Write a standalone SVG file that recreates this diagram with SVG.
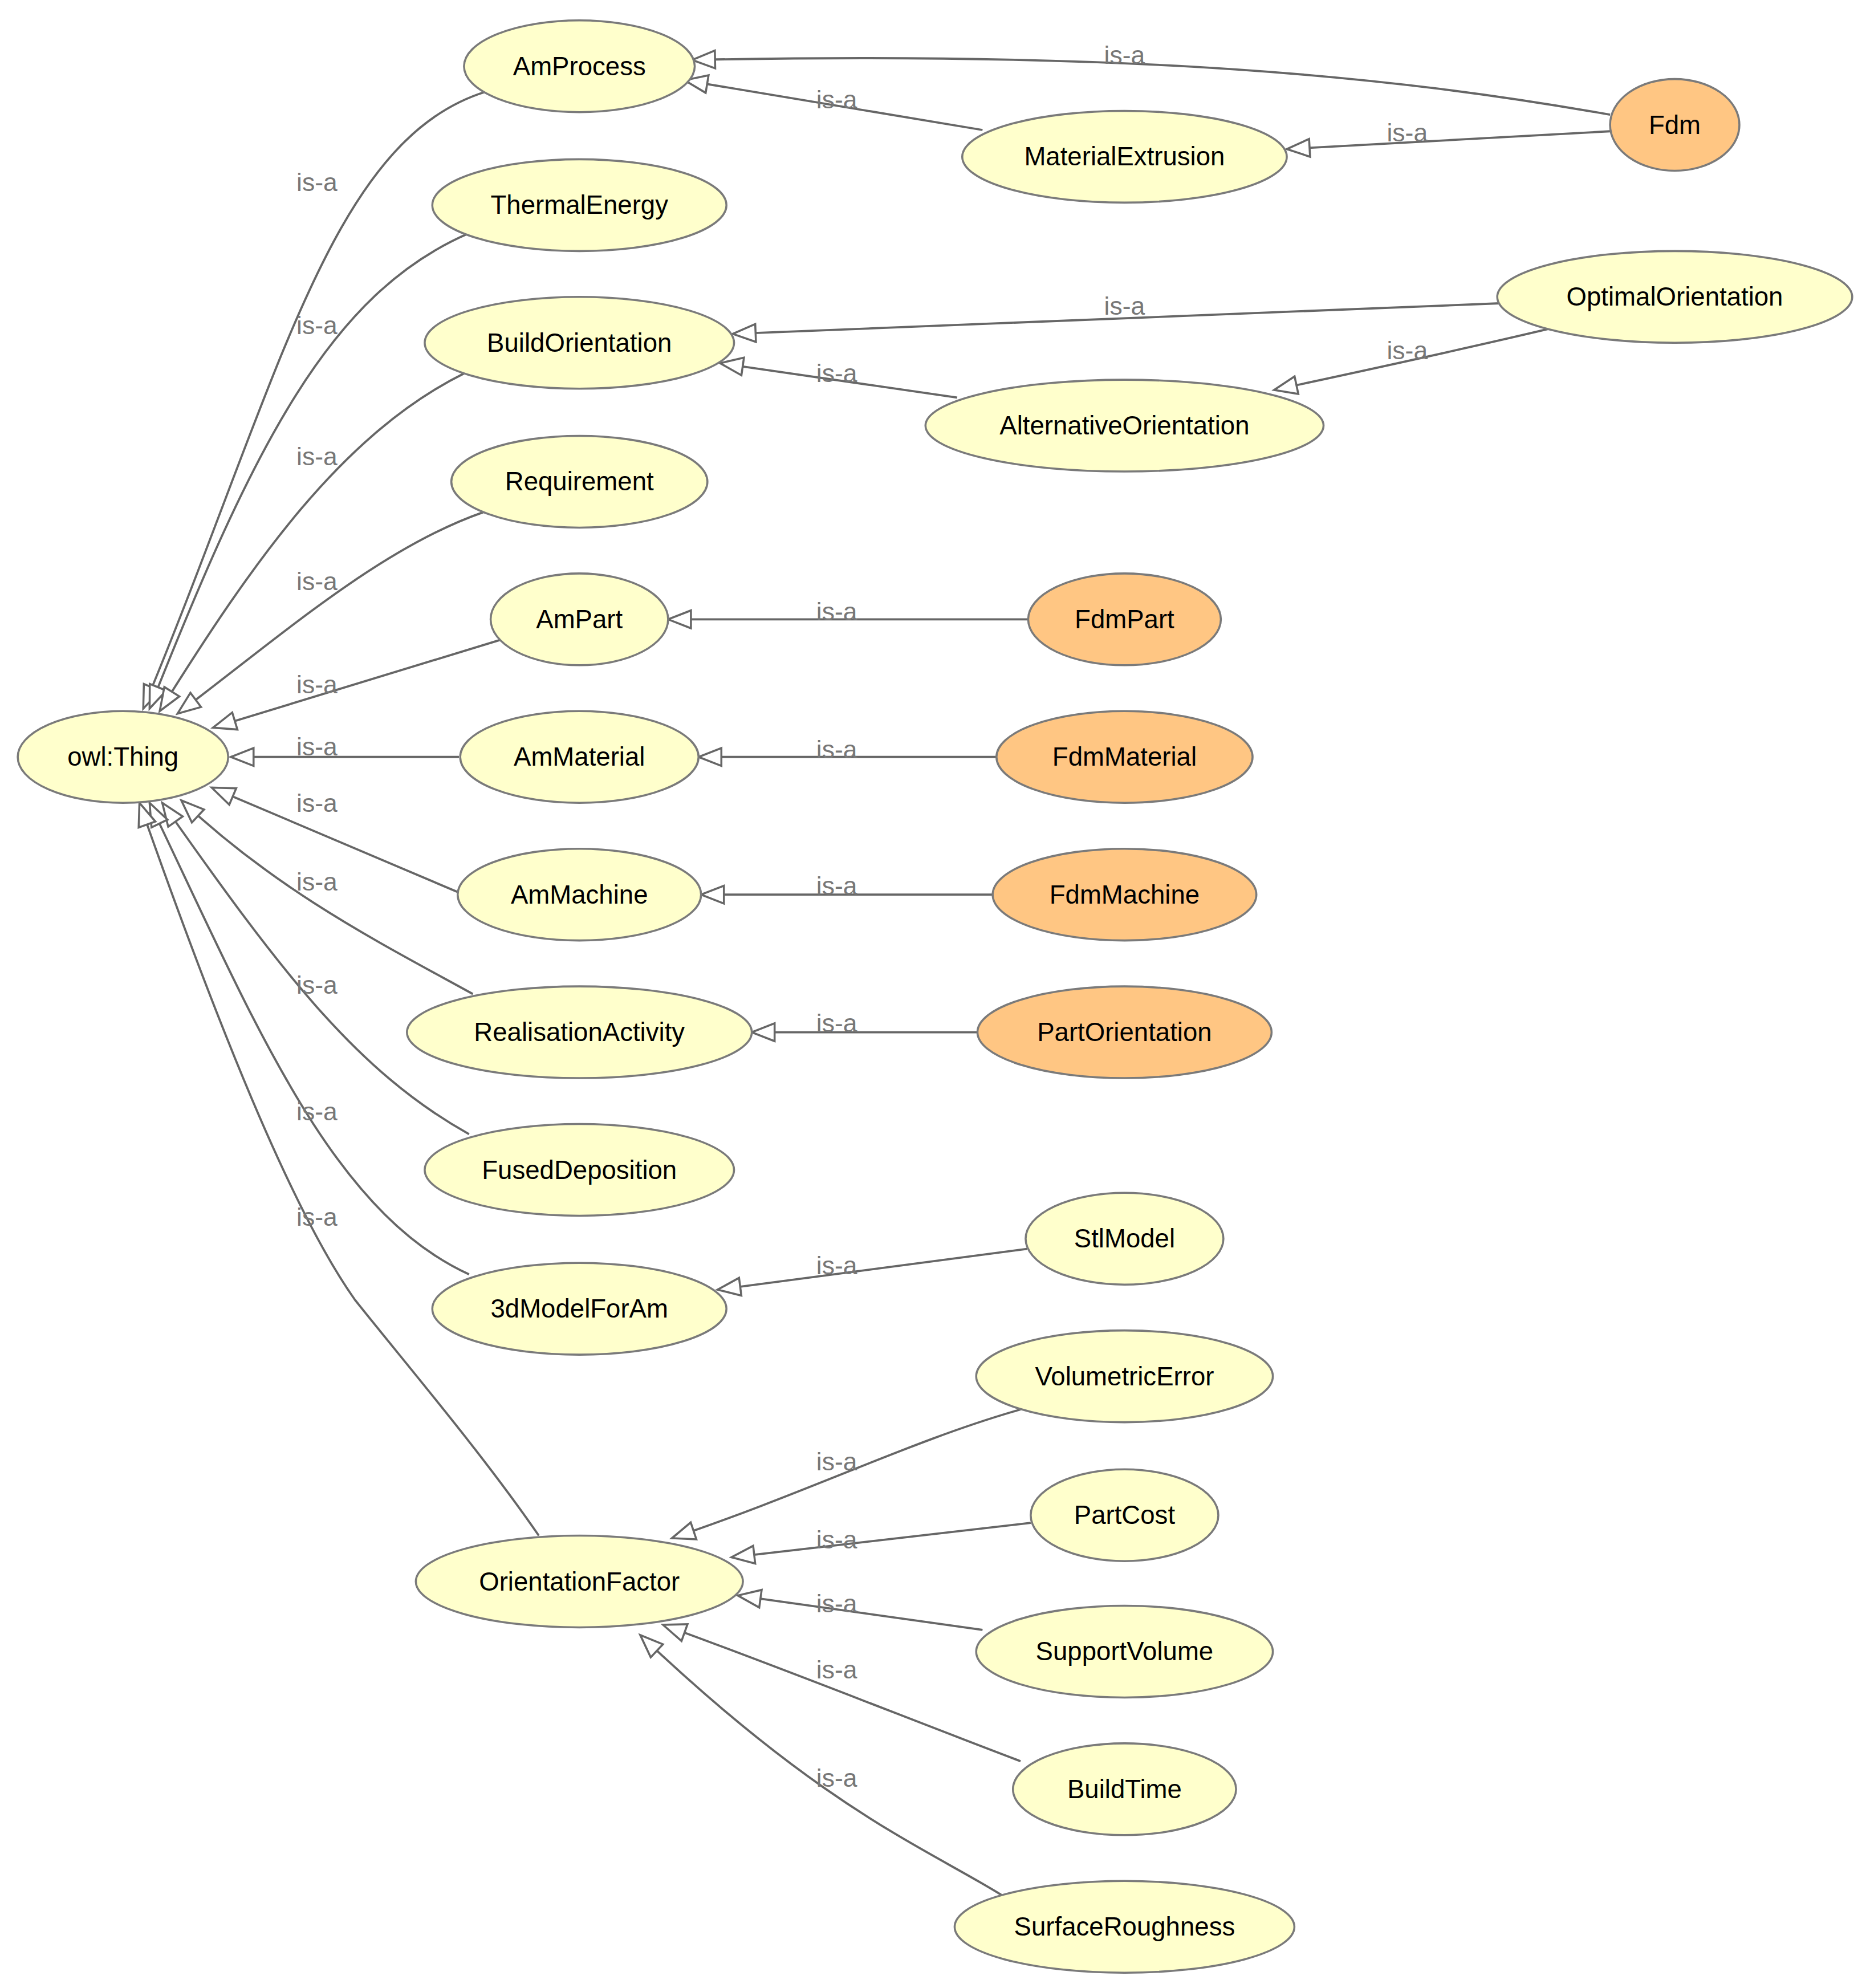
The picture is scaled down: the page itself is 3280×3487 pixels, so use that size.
<svg xmlns="http://www.w3.org/2000/svg" width="3280" height="3487" viewBox="0 0 3280 3487">
<style>
.n{fill:#ffffcc;stroke:#7a7a7a;stroke-width:1.6}
.o{fill:#ffc683;stroke:#7a7a7a;stroke-width:1.6}
.t{font-family:"Liberation Sans",Arial,sans-serif;font-size:20.5px;fill:#000;text-anchor:middle;dominant-baseline:central}
.e{fill:none;stroke:#666;stroke-width:1.7;marker-end:url(#tri)}
.l{font-family:"Liberation Sans",Arial,sans-serif;font-size:20px;fill:#777;text-anchor:middle;dominant-baseline:central}
</style>
<defs>
<marker id="tri" markerUnits="userSpaceOnUse" markerWidth="22" markerHeight="18" refX="18" refY="7" orient="auto" viewBox="-2 -2 22 18">
<path d="M0,0 L18,7 L0,14 z" fill="#fff" stroke="#666" stroke-width="1.6"/>
</marker>
</defs>
<rect width="3280" height="3487" fill="#fff"/>
<g transform="scale(2.2237,2.2353)">
<g id="edges">
<path class="e" d="M383,72 C260,110 220,300 113,556"/><text class="l" x="250" y="143">is-a</text>
<path class="e" d="M370,183 C260,230 200,350 118,556"/><text class="l" x="250" y="255">is-a</text>
<path class="e" d="M368,292 C270,340 200,440 126,558"/><text class="l" x="250" y="358">is-a</text>
<path class="e" d="M381,402 C300,430 220,500 140,560"/><text class="l" x="250" y="456">is-a</text>
<path class="e" d="M395,502 L168,571"/><text class="l" x="250" y="537">is-a</text>
<path class="e" d="M362,594 L182,594"/><text class="l" x="250" y="586">is-a</text>
<path class="e" d="M380,708 L167,618"/><text class="l" x="250" y="630">is-a</text>
<path class="e" d="M373,780 C300,740 220,700 143,628"/><text class="l" x="250" y="692">is-a</text>
<path class="e" d="M370,890 C280,840 220,760 128,630"/><text class="l" x="250" y="773">is-a</text>
<path class="e" d="M370,1000 C260,950 200,800 118,630"/><text class="l" x="250" y="872">is-a</text>
<path class="e" d="M425,1205 C380,1140 320,1070 280,1020 C230,950 170,800 110,630"/><text class="l" x="250" y="955">is-a</text>
<path class="e" d="M1270,90 C1100,60 900,40 546,47"/><text class="l" x="887" y="43">is-a</text>
<path class="e" d="M775,102 L540,63"/><text class="l" x="660" y="78">is-a</text>
<path class="e" d="M1270,103 L1015,117"/><text class="l" x="1110" y="104">is-a</text>
<path class="e" d="M1183,238 L578,262"/><text class="l" x="887" y="240">is-a</text>
<path class="e" d="M755,312 L568,285"/><text class="l" x="660" y="293">is-a</text>
<path class="e" d="M1222,258 C1150,275 1080,290 1005,306"/><text class="l" x="1110" y="275">is-a</text>
<path class="e" d="M811,486 L527,486"/><text class="l" x="660" y="480">is-a</text>
<path class="e" d="M786,594 L551,594"/><text class="l" x="660" y="588">is-a</text>
<path class="e" d="M783,702 L553,702"/><text class="l" x="660" y="695">is-a</text>
<path class="e" d="M771,810 L593,810"/><text class="l" x="660" y="803">is-a</text>
<path class="e" d="M810,980 L566,1012"/><text class="l" x="660" y="993">is-a</text>
<path class="e" d="M805,1106 C720,1130 640,1170 530,1207"/><text class="l" x="660" y="1147">is-a</text>
<path class="e" d="M813,1195 L577,1222"/><text class="l" x="660" y="1208">is-a</text>
<path class="e" d="M775,1279 L582,1252"/><text class="l" x="660" y="1258">is-a</text>
<path class="e" d="M805,1382 C720,1350 620,1310 523,1275"/><text class="l" x="660" y="1310">is-a</text>
<path class="e" d="M790,1487 C730,1450 650,1420 505,1283"/><text class="l" x="660" y="1395">is-a</text>
</g>
<g id="owlThing"><ellipse class="n" cx="97" cy="594" rx="83" ry="36"/><text class="t" x="97" y="594">owl:Thing</text></g>
<g id="AmProcess"><ellipse class="n" cx="457" cy="52" rx="91" ry="36"/><text class="t" x="457" y="52">AmProcess</text></g>
<g id="ThermalEnergy"><ellipse class="n" cx="457" cy="161" rx="116" ry="36"/><text class="t" x="457" y="161">ThermalEnergy</text></g>
<g id="BuildOrientation"><ellipse class="n" cx="457" cy="269" rx="122" ry="36"/><text class="t" x="457" y="269">BuildOrientation</text></g>
<g id="Requirement"><ellipse class="n" cx="457" cy="378" rx="101" ry="36"/><text class="t" x="457" y="378">Requirement</text></g>
<g id="AmPart"><ellipse class="n" cx="457" cy="486" rx="70" ry="36"/><text class="t" x="457" y="486">AmPart</text></g>
<g id="AmMaterial"><ellipse class="n" cx="457" cy="594" rx="94" ry="36"/><text class="t" x="457" y="594">AmMaterial</text></g>
<g id="AmMachine"><ellipse class="n" cx="457" cy="702" rx="96" ry="36"/><text class="t" x="457" y="702">AmMachine</text></g>
<g id="RealisationActivity"><ellipse class="n" cx="457" cy="810" rx="136" ry="36"/><text class="t" x="457" y="810">RealisationActivity</text></g>
<g id="FusedDeposition"><ellipse class="n" cx="457" cy="918" rx="122" ry="36"/><text class="t" x="457" y="918">FusedDeposition</text></g>
<g id="ModelForAm"><ellipse class="n" cx="457" cy="1027" rx="116" ry="36"/><text class="t" x="457" y="1027">3dModelForAm</text></g>
<g id="OrientationFactor"><ellipse class="n" cx="457" cy="1241" rx="129" ry="36"/><text class="t" x="457" y="1241">OrientationFactor</text></g>
<g id="MaterialExtrusion"><ellipse class="n" cx="887" cy="123" rx="128" ry="36"/><text class="t" x="887" y="123">MaterialExtrusion</text></g>
<g id="Fdm"><ellipse class="o" cx="1321" cy="98" rx="51" ry="36"/><text class="t" x="1321" y="98">Fdm</text></g>
<g id="OptimalOrientation"><ellipse class="n" cx="1321" cy="233" rx="140" ry="36"/><text class="t" x="1321" y="233">OptimalOrientation</text></g>
<g id="AlternativeOrientation"><ellipse class="n" cx="887" cy="334" rx="157" ry="36"/><text class="t" x="887" y="334">AlternativeOrientation</text></g>
<g id="FdmPart"><ellipse class="o" cx="887" cy="486" rx="76" ry="36"/><text class="t" x="887" y="486">FdmPart</text></g>
<g id="FdmMaterial"><ellipse class="o" cx="887" cy="594" rx="101" ry="36"/><text class="t" x="887" y="594">FdmMaterial</text></g>
<g id="FdmMachine"><ellipse class="o" cx="887" cy="702" rx="104" ry="36"/><text class="t" x="887" y="702">FdmMachine</text></g>
<g id="PartOrientation"><ellipse class="o" cx="887" cy="810" rx="116" ry="36"/><text class="t" x="887" y="810">PartOrientation</text></g>
<g id="StlModel"><ellipse class="n" cx="887" cy="972" rx="78" ry="36"/><text class="t" x="887" y="972">StlModel</text></g>
<g id="VolumetricError"><ellipse class="n" cx="887" cy="1080" rx="117" ry="36"/><text class="t" x="887" y="1080">VolumetricError</text></g>
<g id="PartCost"><ellipse class="n" cx="887" cy="1189" rx="74" ry="36"/><text class="t" x="887" y="1189">PartCost</text></g>
<g id="SupportVolume"><ellipse class="n" cx="887" cy="1296" rx="117" ry="36"/><text class="t" x="887" y="1296">SupportVolume</text></g>
<g id="BuildTime"><ellipse class="n" cx="887" cy="1404" rx="88" ry="36"/><text class="t" x="887" y="1404">BuildTime</text></g>
<g id="SurfaceRoughness"><ellipse class="n" cx="887" cy="1512" rx="134" ry="36"/><text class="t" x="887" y="1512">SurfaceRoughness</text></g>
</g>
</svg>
